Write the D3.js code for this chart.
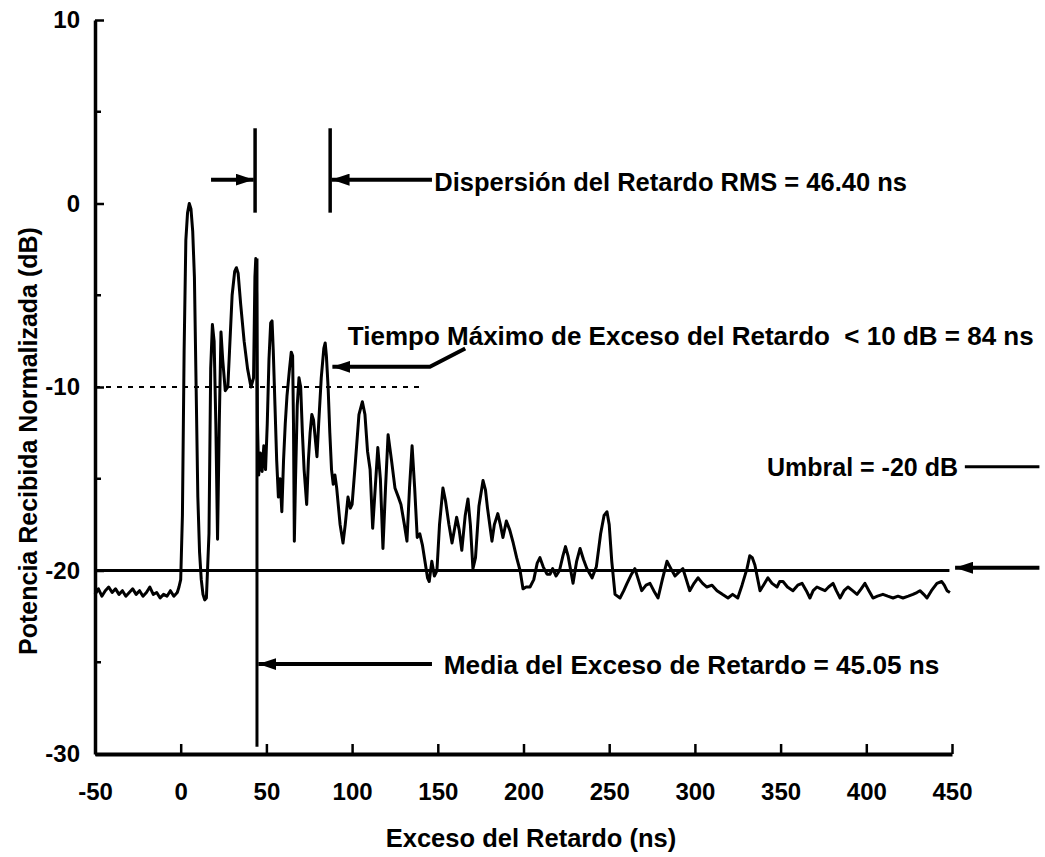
<!DOCTYPE html>
<html lang="es">
<head>
<meta charset="UTF-8">
<title>Perfil de retardo</title>
<script src="https://d3js.org/d3.v7.min.js"></script>
<style>
    body { margin: 0; background: #fff; }
    text { font-family: "Liberation Sans", Arial, sans-serif; font-weight: bold; fill: #000; }
    .axis text { font-size: 24px; }
    .axis path, .axis line { stroke: #000; }
</style>
</head>
<body>
<script>
    const width = 1045;
    const height = 857;

    // trace: excess delay (ns) / normalized power (dB)
    const delayNs = [-50, -48, -46, -44, -42, -40, -38, -36, -34, -32, -30, -28, -26, -24, -22, -20, -18, -16, -14, -12, -10, -8, -6, -4, -2, -1, 0,
        1, 2, 3, 4, 5, 6, 7, 8, 9, 10, 11, 12, 13, 14, 15, 16.5, 17.5, 18.5, 19.5, 20.5, 21.5, 22.5, 23.5, 24.5, 26, 27.5, 28.5, 30, 31.5, 32.5, 33.5, 35, 37, 39, 41, 42.5,
        43.3, 43.8, 44.3, 44.8, 45.5, 46.5, 47.5, 48.5, 49.5, 50.5, 51.5, 52.5, 53.3, 54, 55, 56, 57, 58, 59, 60, 61, 62, 63.5, 64.5, 65.3, 65.8, 66.3, 67, 68, 69, 70,
        71, 72, 73.5, 74.5, 75.5, 76.5, 77.5, 78.5, 79.5, 80.5, 82, 83.5, 84.3, 85, 86, 87, 88, 89, 90, 91, 93, 94.7, 96, 97.6, 99, 100, 102, 104, 106, 107.5, 109,
        110.5, 112, 113.5, 115, 116.5, 118, 119.5, 121, 123, 125, 127, 128.5, 130.5, 132, 133.5, 135, 136.5, 138, 139.5, 141, 142.5, 144, 145, 146.5, 148, 149.5,
        151, 153, 154.5, 156.5, 158.3, 161, 162.5, 164, 166, 167.6, 169, 170.5, 172, 174, 176.4, 177.8, 179, 181.6, 183, 185, 186.5, 188, 190, 192, 194, 196, 198,
        199.7, 201.5, 203.8, 206, 208, 209.6, 211.5, 213.7, 215.5, 217, 219, 221, 223, 224.5, 226, 228.9, 231, 233, 235, 237, 240, 242.5, 245, 247, 248.7, 250,
        251.5, 253.4, 256.3, 258.5, 260.4, 263, 265, 267, 269, 271.5, 273.8, 276, 278.5, 281, 283.7, 286, 288.4, 290.5, 293, 295, 297, 299.5, 301.8, 304.5, 307,
        310, 312.9, 316, 319.3, 322, 325, 327.5, 330.4, 332, 333.5, 335, 336.5, 338, 340, 342.6, 345, 347.9, 349.5, 351.4, 354, 357.2, 360, 362.5, 365, 367.1,
        369, 371.2, 373.5, 375.9, 378, 380.6, 382.5, 384.7, 387, 389.3, 392, 394.6, 397, 399.2, 401.5, 403.9, 406.5, 409.7, 412.5, 415.6, 418.5, 421.4, 424.5,
        427.2, 429.5, 431.3, 433.5, 435.4, 438, 441.2, 444, 445.5, 447.1, 448.8];
    const powerDb = [-21.3, -21.0, -21.4, -21.1, -20.9, -21.2, -21.0, -21.3, -21.1, -21.4, -21.2, -21.0, -21.3, -21.1, -21.4, -21.2, -20.9, -21.3, -21.2, -21.5, -21.3, -21.4, -21.1, -21.4, -21.2, -20.9, -20.5,
        -17, -8, -2, -0.5, 0, -0.3, -1.5, -4, -10, -16, -19, -20.5, -21.3, -21.6, -21.5, -18, -9, -6.6, -7.5, -12, -18.3, -12, -7, -8.5, -10.2, -10, -8, -5, -3.7, -3.5, -3.8, -5.5, -7.5, -9, -10, -9.5,
        -4, -3.0, -5, -12, -14.8, -13.6, -14.6, -13.2, -14.5, -12, -8.5, -6.5, -6.4, -8, -11, -14, -16, -15, -16.8, -14, -12, -10.5, -9, -8.1, -8.3, -12, -18.4, -15, -11, -9.5, -10,
        -12.5, -14.5, -16.4, -14, -12.5, -11.5, -11.8, -12.8, -13.8, -12, -9.5, -7.9, -7.6, -8.3, -10, -12.5, -14.5, -15.3, -14.8, -15.5, -17.5, -18.5, -17.5, -16, -16.6, -16.4, -14, -11.5, -10.8, -11.5, -13.5,
        -14.5, -17.7, -15.5, -13.3, -15, -18.8, -15.5, -12.6, -14, -15.5, -16, -16.4, -17.5, -18.4, -15.5, -13.2, -15.5, -18.2, -18, -18.6, -19.5, -20.4, -20.6, -19.5, -20.3, -20,
        -17.5, -15.5, -16.2, -17.5, -18.5, -17.1, -17.8, -18.9, -17, -16.1, -17.5, -19.9, -19.3, -16.5, -15.1, -15.6, -16.6, -18.4, -17.5, -16.9, -17.5, -18.2, -17.3, -17.8, -18.5, -19.3, -20,
        -21, -20.9, -20.9, -20.5, -19.6, -19.3, -19.8, -20.2, -20.2, -19.9, -20.3, -20.0, -19.2, -18.7, -19.2, -20.7, -19.5, -18.8, -19.4, -19.9, -20.4, -19.8, -18, -17, -16.8, -17.5,
        -19.5, -21.3, -21.5, -21.1, -20.7, -20.2, -19.9, -20.5, -21.1, -20.8, -20.7, -21.1, -21.5, -20.5, -19.5, -19.9, -20.3, -20.1, -19.9, -20.5, -21.1, -20.7, -20.4, -20.7, -20.9,
        -20.8, -21.1, -21.3, -21.5, -21.3, -21.5, -20.8, -19.9, -19.2, -19.3, -19.7, -20.4, -21.1, -20.8, -20.4, -20.7, -20.9, -20.6, -20.6, -20.9, -21.1, -20.8, -20.7, -21.1, -21.5,
        -21.1, -20.9, -21.0, -21.1, -20.9, -20.7, -21.1, -21.5, -21.1, -20.9, -21.1, -21.3, -21.0, -20.7, -21.1, -21.5, -21.4, -21.3, -21.4, -21.5, -21.4, -21.5, -21.4,
        -21.3, -21.2, -21.1, -21.3, -21.5, -21.1, -20.7, -20.6, -20.8, -21.1, -21.2];

    const xTicks = [-50, 0, 50, 100, 150, 200, 250, 300, 350, 400, 450];
    const yTicks = [10, 0, -10, -20, -30];
    const yMinorTicks = [5, -5, -15, -25];

    // reference levels and delay markers
    const thresholdDb = -20;
    const maxExcessLevelDb = -10;
    const meanDelayNs = 44.5;
    const rmsMarkersNs = [43.4, 87.2];

    const svg = d3.select("body")
        .append("svg")
        .attr("width", width)
        .attr("height", height);

    const x = d3.scaleLinear().domain([-50, 450]).range([95, 952]);
    const y = d3.scaleLinear().domain([-30, 10]).range([754, 20]);

    svg.append("defs").append("marker")
        .attr("id", "head")
        .attr("markerUnits", "userSpaceOnUse")
        .attr("viewBox", "0 0 18 12")
        .attr("refX", 18)
        .attr("refY", 6)
        .attr("markerWidth", 18)
        .attr("markerHeight", 12)
        .attr("orient", "auto")
        .append("path")
        .attr("d", "M0,0 L18,6 L0,12 Z")
        .attr("fill", "#000");

    // dotted -10 dB level and -20 dB threshold
    svg.append("line")
        .attr("x1", x(-50)).attr("x2", x(141.5))
        .attr("y1", y(maxExcessLevelDb)).attr("y2", y(maxExcessLevelDb))
        .attr("stroke", "#000").attr("stroke-width", 2)
        .attr("stroke-dasharray", "5,6");

    svg.append("line")
        .attr("x1", x(-50)).attr("x2", x(448.5))
        .attr("y1", y(thresholdDb)).attr("y2", y(thresholdDb))
        .attr("stroke", "#000").attr("stroke-width", 3);

    // trace
    const line = d3.line()
        .x(d => x(d[0]))
        .y(d => y(d[1]));

    svg.append("path")
        .datum(delayNs.map((d, i) => [d, powerDb[i]]))
        .attr("d", line)
        .attr("fill", "none")
        .attr("stroke", "#000")
        .attr("stroke-width", 3)
        .attr("stroke-linejoin", "round");

    // mean excess delay marker
    svg.append("line")
        .attr("x1", x(meanDelayNs)).attr("x2", x(meanDelayNs))
        .attr("y1", y(-3)).attr("y2", y(-29.6))
        .attr("stroke", "#000").attr("stroke-width", 3);

    // rms spread markers
    svg.selectAll(".rms")
        .data(rmsMarkersNs)
        .enter()
        .append("line")
        .attr("x1", d => x(d)).attr("x2", d => x(d))
        .attr("y1", y(4.1)).attr("y2", y(-0.5))
        .attr("stroke", "#000").attr("stroke-width", 3.5);

    function arrow(pts) {
        svg.append("path")
            .attr("d", d3.line()(pts.map(p => [x(p[0]), y(p[1])])))
            .attr("fill", "none")
            .attr("stroke", "#000")
            .attr("stroke-width", 4)
            .attr("marker-end", "url(#head)");
    }

    arrow([[17.7, 1.3], [rmsMarkersNs[0] - 0.8, 1.3]]);
    arrow([[146.6, 1.3], [rmsMarkersNs[1] + 0.8, 1.3]]);
    arrow([[166, -7.9], [145.4, -8.9], [88.5, -8.9]]);
    arrow([[146.6, -25.1], [meanDelayNs + 0.8, -25.1]]);
    arrow([[501, -19.85], [451.8, -19.85]]);

    svg.append("line")
        .attr("x1", x(457.5)).attr("x2", x(501))
        .attr("y1", y(-14.35)).attr("y2", y(-14.35))
        .attr("stroke", "#000").attr("stroke-width", 3);

    // annotations
    const notes = [
        { t: "Dispersión del Retardo RMS = 46.40 ns", ns: 148, db: 1.2, size: 25.5, anchor: "start" },
        { t: "Tiempo Máximo de Exceso del Retardo  < 10 dB = 84 ns", ns: 97.5, db: -7.2, size: 26, anchor: "start" },
        { t: "Umbral = -20 dB", ns: 453.5, db: -14.35, size: 25, anchor: "end" },
        { t: "Media del Exceso de Retardo = 45.05 ns", ns: 153.5, db: -25.1, size: 26.2, anchor: "start" }
    ];
    svg.selectAll(".note")
        .data(notes)
        .enter()
        .append("text")
        .attr("class", "note")
        .attr("x", d => x(d.ns))
        .attr("y", d => y(d.db))
        .attr("dy", "0.36em")
        .attr("font-size", d => d.size + "px")
        .attr("text-anchor", d => d.anchor)
        .style("white-space", "pre")
        .text(d => d.t);

    // axes
    svg.append("g")
        .attr("class", "axis")
        .attr("transform", "translate(0," + y(-30) + ")")
        .call(d3.axisBottom(x).tickValues(xTicks).tickFormat(d => String(d))
            .tickSize(-10).tickSizeOuter(0).tickPadding(29))
        .call(g => g.select(".domain").attr("stroke-width", 4))
        .call(g => g.selectAll(".tick line").attr("stroke-width", 2.5));

    svg.append("g")
        .attr("class", "axis")
        .attr("transform", "translate(" + x(-50) + ",0)")
        .call(d3.axisLeft(y).tickValues(yTicks).tickFormat(d => String(d))
            .tickSize(-9).tickSizeOuter(0).tickPadding(15))
        .call(g => g.select(".domain").attr("stroke-width", 3.5))
        .call(g => g.selectAll(".tick line").attr("stroke-width", 2.5));

    svg.append("g")
        .selectAll("line")
        .data(yMinorTicks)
        .enter()
        .append("line")
        .attr("x1", x(-50)).attr("x2", x(-50) + 6)
        .attr("y1", d => y(d)).attr("y2", d => y(d))
        .attr("stroke", "#000").attr("stroke-width", 2.5);

    // axis titles
    svg.append("text")
        .attr("x", 531)
        .attr("y", 847)
        .attr("text-anchor", "middle")
        .attr("font-size", "25.5px")
        .text("Exceso del Retardo (ns)");

    svg.append("text")
        .attr("transform", "rotate(-90)")
        .attr("x", -441)
        .attr("y", 37)
        .attr("text-anchor", "middle")
        .attr("font-size", "25px")
        .text("Potencia Recibida Normalizada (dB)");
</script>
</body>
</html>
